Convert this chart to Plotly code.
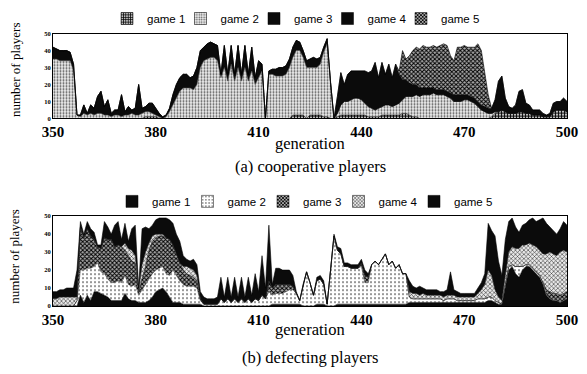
import plotly.graph_objects as go

generations = list(range(350, 501))

# (a) cooperative players
coop_game1 = [0,0,0,0,0,0,0,0,0,0,
              0,0,0,0,0,0,0,0,0,0,
              0,0,0,0,0,0,0,1,1,1,
              1,0,0,0,0,0,0,0,0,0,
              0,0,0,0,0,0,0,0,0,0,
              0,0,0,0,0,0,0,0,0,0,
              0,0,0,0,0,0,0,0,0,0,
              2,2,2,2,0,2,2,2,2,1,
              1,0,0,1,2,2,2,2,2,2,
              2,2,1,1,1,1,2,2,2,2,
              2,2,3,3,2,1,1,0,0,0,
              0,0,0,0,0,0,0,0,0,0,
              0,0,0,0,0,0,0,0,1,3,
              4,5,4,3,3,3,4,4,3,3,
              2,2,2,1,1,1,4,5,5,5,
              4]
coop_game2 = [35,35,34,34,34,34,28,2,1,3,
              2,3,2,3,3,2,2,1,2,2,
              1,2,2,3,2,2,3,3,3,2,
              1,1,0,1,4,8,12,16,18,18,
              18,17,20,30,34,35,36,36,34,24,
              30,22,32,22,30,22,30,22,28,20,
              24,28,0,26,26,25,25,25,26,30,
              34,38,38,34,30,28,28,28,30,38,
              43,20,0,2,6,8,8,9,10,10,
              9,7,6,5,4,5,5,6,6,5,
              6,7,8,10,11,12,13,13,14,14,
              14,15,14,14,14,13,12,10,10,10,
              11,11,10,9,7,5,4,3,2,1,
              0,0,0,0,0,0,0,0,0,0,
              0,0,0,0,0,0,0,0,0,0,
              0]
coop_game3 = [7,6,6,6,6,5,4,0,1,5,
              1,5,4,10,13,5,9,2,3,3,
              13,2,5,2,4,18,3,3,5,6,
              4,2,1,1,2,6,8,8,8,8,
              6,8,10,10,8,9,9,8,9,2,
              13,4,11,4,13,4,13,4,14,4,
              10,4,0,2,3,4,5,5,5,5,
              6,6,5,4,4,5,6,5,4,3,
              3,1,0,0,0,0,0,0,0,0,
              0,0,0,0,0,0,0,0,0,0,
              0,0,0,0,0,0,0,0,0,0,
              0,0,0,0,0,0,0,0,0,0,
              0,0,0,0,0,0,0,0,0,0,
              0,0,0,0,0,0,0,0,0,0,
              0,0,0,0,0,0,0,0,0,0,
              0]
coop_game4 = [0,0,0,0,0,0,0,0,0,0,
              0,0,0,0,0,0,0,0,0,0,
              0,0,0,0,0,0,0,0,0,0,
              0,0,0,0,0,0,0,0,0,0,
              0,0,0,0,0,0,0,0,0,0,
              0,0,0,0,0,0,0,0,0,0,
              0,0,0,0,0,0,0,0,0,0,
              0,0,0,0,0,0,0,0,0,0,
              0,0,0,10,19,10,16,17,16,16,
              17,19,20,22,28,18,26,18,24,17,
              24,17,12,10,8,7,6,5,4,4,
              4,3,3,3,3,3,3,4,4,4,
              3,3,3,3,3,3,3,3,3,7,
              18,20,8,4,3,5,12,13,6,5,
              3,3,3,2,1,2,5,5,5,7,
              6]
coop_game5 = [0]*100 + [
              0,2,17,12,16,20,22,23,25,24,
              24,25,25,26,27,27,22,20,28,28,
              29,28,29,30,34,32,20,8,0,0,
              0,0,0,0,0,0,0,0,0,0,
              0,0,0,0,0,0,0,0,0,0,
              0]

# (b) defecting players
def_game1 = [0,0,0,0,0,0,0,0,6,2,
             6,3,8,8,7,6,5,3,3,3,
             3,7,4,3,3,2,2,2,3,5,
             8,9,10,8,5,2,2,2,1,1,
             1,1,1,1,0,0,0,0,0,0,
             0,0,0,0,0,0,0,0,0,0,
             0,0,0,0,1,1,1,1,1,1,
             1,1,1,0,0,0,0,1,1,1,
             0,0,0,1,1,1,1,1,1,1,
             1,1,1,1,1,1,1,1,1,1,
             1,1,1,1,2,2,2,2,2,2,
             2,2,2,2,2,2,2,2,2,2,
             2,2,2,2,2,2,2,3,3,2,
             1,1,10,20,22,18,16,20,22,22,
             20,18,16,12,6,4,3,3,2,3,
             4]
def_game2 = [0,0,0,0,0,0,0,3,14,18,
             15,18,14,16,12,12,10,10,10,11,
             10,10,8,8,9,4,7,10,12,13,
             12,12,12,10,12,18,15,12,11,10,
             10,10,9,2,1,1,1,1,1,4,
             2,4,2,4,2,4,2,4,2,4,
             3,6,4,8,5,6,6,6,7,8,
             8,6,2,12,19,13,6,13,14,11,
             1,20,39,30,28,21,21,20,20,20,
             21,12,12,22,24,22,25,28,22,24,
             20,22,17,17,3,2,2,2,2,2,
             2,2,2,2,1,2,2,2,1,1,
             1,1,1,1,2,2,2,2,2,1,
             1,0,2,2,1,4,6,2,1,1,
             1,1,1,1,0,0,0,0,0,0,
             0]
def_game3 = [0,0,0,0,0,0,0,0,24,18,
             22,18,15,9,13,20,22,24,20,20,
             20,14,16,14,12,2,6,10,16,18,
             18,18,17,20,20,14,12,10,8,7,
             6,5,4,1,0,0,0,0,0,0,
             0,0,0,0,0,0,0,0,0,0,
             0,0,0,6,4,5,5,5,4,3,
             2,0,0,0,0,0,0,0,0,0,
             0,0,0,0,0,0,0,0,0,0,
             2,4,3,0,0,0,0,0,0,0,
             0,0,0,0,0,0,0,0,0,0,
             0,0,0,0,0,0,0,0,0,0,
             0,0,0,0,0,0,0,0,0,0,
             0,0,0,0,0,0,0,0,0,0,
             0,0,0,0,3,4,4,4,4,4,
             4]
def_game4 = [4,4,5,5,5,5,5,2,0,0,
             0,0,0,0,0,0,0,0,0,0,
             0,4,4,6,4,1,8,8,4,3,
             2,1,1,0,0,0,0,0,2,4,
             4,4,3,0,0,0,0,0,0,0,
             0,0,0,0,0,0,0,0,0,0,
             0,0,0,0,0,0,0,0,0,0,
             0,0,0,0,0,0,0,0,0,0,
             0,0,0,0,0,0,0,0,0,0,
             0,0,0,0,0,0,0,0,0,0,
             0,0,0,0,3,3,3,2,3,2,
             2,2,2,2,2,2,2,2,2,2,
             2,2,2,2,3,5,8,15,12,6,
             3,2,5,8,10,10,10,12,11,12,
             13,14,14,16,20,22,22,21,24,24,
             22]
def_game5 = [4,4,4,4,5,5,5,15,3,2,
             4,4,4,1,2,9,7,3,12,13,
             4,11,4,12,17,1,20,14,8,6,
             8,9,9,11,11,12,11,12,6,4,
             4,6,6,4,4,3,3,3,4,12,
             3,12,3,12,3,12,3,12,4,14,
             5,22,6,31,2,9,9,8,8,8,
             6,1,0,0,0,0,0,2,2,2,
             0,0,1,2,3,2,2,2,2,2,
             2,3,2,0,0,0,0,0,0,0,
             0,0,0,0,6,4,3,5,3,3,
             3,3,3,2,3,3,13,3,3,2,
             2,2,2,2,3,4,6,26,25,30,
             20,14,20,17,16,12,9,11,12,13,
             15,14,17,20,17,14,13,12,13,16,
             15]

series_names = ["game 1", "game 2", "game 3", "game 4", "game 5"]
x_ticks = [350, 380, 410, 440, 470, 500]
y_ticks = [0, 10, 20, 30, 40, 50]

BLACK = dict(fillcolor="#0b0b0b", pattern=None, line="#000000")
LIGHT = dict(fillcolor="#e4e4e4",
             pattern=dict(shape=".", fgcolor="#555555", bgcolor="#eeeeee", size=3, solidity=0.35),
             line="#444444")
PALE = dict(fillcolor="#f6f6f6",
            pattern=dict(shape=".", fgcolor="#777777", bgcolor="#ffffff", size=4, solidity=0.2),
            line="#555555")
DARKX = dict(fillcolor="#555555",
             pattern=dict(shape="x", fgcolor="#000000", bgcolor="#aaaaaa", size=3, solidity=0.55),
             line="#000000")
MEDX = dict(fillcolor="#bbbbbb",
            pattern=dict(shape="x", fgcolor="#333333", bgcolor="#e8e8e8", size=3, solidity=0.35),
            line="#222222")
CHECK = dict(fillcolor="#666666",
             pattern=dict(shape="+", fgcolor="#000000", bgcolor="#bbbbbb", size=3, solidity=0.5),
             line="#000000")

coop_styles = [CHECK, LIGHT, BLACK, BLACK, DARKX]
def_styles = [BLACK, PALE, DARKX, MEDX, BLACK]

coop_data = [coop_game1, coop_game2, coop_game3, coop_game4, coop_game5]
def_data = [def_game1, def_game2, def_game3, def_game4, def_game5]

for s in coop_data + def_data:
    assert len(s) == len(generations), len(s)

fig = go.Figure()

def add_panel(data, styles, xa, ya, group, legend):
    for name, vals, st in zip(series_names, data, styles):
        kw = dict(x=generations, y=vals, name=name, mode="lines",
                  stackgroup=group, xaxis=xa, yaxis=ya, showlegend=False,
                  line=dict(width=0.6, color=st["line"]),
                  fillcolor=st["fillcolor"], hoverinfo="skip")
        if st["pattern"] is not None:
            kw["fillpattern"] = dict(fillmode="replace", **st["pattern"])
        fig.add_trace(go.Scatter(**kw))
    # legend keys: small patterned squares, like the original figure
    for name, st in zip(series_names, styles):
        marker = dict(color=st["fillcolor"], line=dict(width=0.5, color="#000000"))
        if st["pattern"] is not None:
            marker["pattern"] = dict(fillmode="replace", **st["pattern"])
        fig.add_trace(go.Bar(x=[generations[0]], y=[0], name=name, xaxis=xa, yaxis=ya,
                             legend=legend, marker=marker, showlegend=True,
                             hoverinfo="skip"))
    # blank spacer entry so the last legend label is not clipped
    fig.add_trace(go.Bar(x=[generations[0]], y=[0], name=" ", xaxis=xa, yaxis=ya,
                         legend=legend, showlegend=True, hoverinfo="skip",
                         marker=dict(color="rgba(0,0,0,0)", line=dict(width=0))))

add_panel(coop_data, coop_styles, "x", "y", "coop", "legend")
add_panel(def_data, def_styles, "x2", "y2", "def", "legend2")

serif = "Liberation Serif"
axis_common = dict(showline=True, mirror=True, linecolor="black", linewidth=1,
                   showgrid=False, zeroline=False, ticks="")
xaxis_style = dict(range=[350, 500], tickvals=x_ticks,
                   tickfont=dict(family=serif, size=15, color="black", weight="bold"),
                   **axis_common)
yaxis_style = dict(range=[0, 50], tickvals=y_ticks,
                   tickfont=dict(family=serif, size=6.5, color="black", weight="bold"),
                   **axis_common)

legend_style = dict(orientation="h", xanchor="left",
                    font=dict(family="Liberation Sans", size=11.5, color="black"),
                    itemwidth=30, entrywidthmode="pixels",
                    bgcolor="rgba(0,0,0,0)", tracegroupgap=0, traceorder="normal")

# page pixel layout: plot frames x 53..567; panel (a) y 30..116, panel (b) y 215..306
PH = 306.0
def py(y_px):
    return (PH - y_px) / PH

fig.update_layout(
    width=587, height=374,
    margin=dict(l=53, r=20, t=0, b=68),
    paper_bgcolor="white", plot_bgcolor="white",
    showlegend=True, barmode="overlay",
    xaxis=dict(domain=[0, 1], anchor="y", **xaxis_style),
    yaxis=dict(domain=[py(116), py(30)], anchor="x", **yaxis_style),
    xaxis2=dict(domain=[0, 1], anchor="y2", **xaxis_style),
    yaxis2=dict(domain=[py(306), py(215)], anchor="x2", **yaxis_style),
    legend=dict(x=(107 - 53) / 514, y=1.0, yanchor="top", entrywidth=28.5, **legend_style),
    legend2=dict(x=(112 - 53) / 514, y=py(200), yanchor="middle", entrywidth=30.5, **legend_style),
)

def label(text, x, y_px, size, angle=0):
    fig.add_annotation(text=text, x=x, y=py(y_px), xref="paper", yref="paper",
                       showarrow=False, textangle=angle,
                       font=dict(family=serif, size=size, color="black"),
                       xanchor="center", yanchor="middle")

label("generation", 0.5, 141, 16.5)
label("(a) cooperative players", 0.5, 165, 16.5)
label("generation", 0.5, 330, 16.5)
label("(b) defecting players", 0.5, 358, 16.5)
label("number of players", -38 / 514, 67, 13, -90)
label("number of players", -38 / 514, 256, 13, -90)

fig.write_html("out.html", config={"displayModeBar": False},
               post_script="document.body.style.margin='0';")
